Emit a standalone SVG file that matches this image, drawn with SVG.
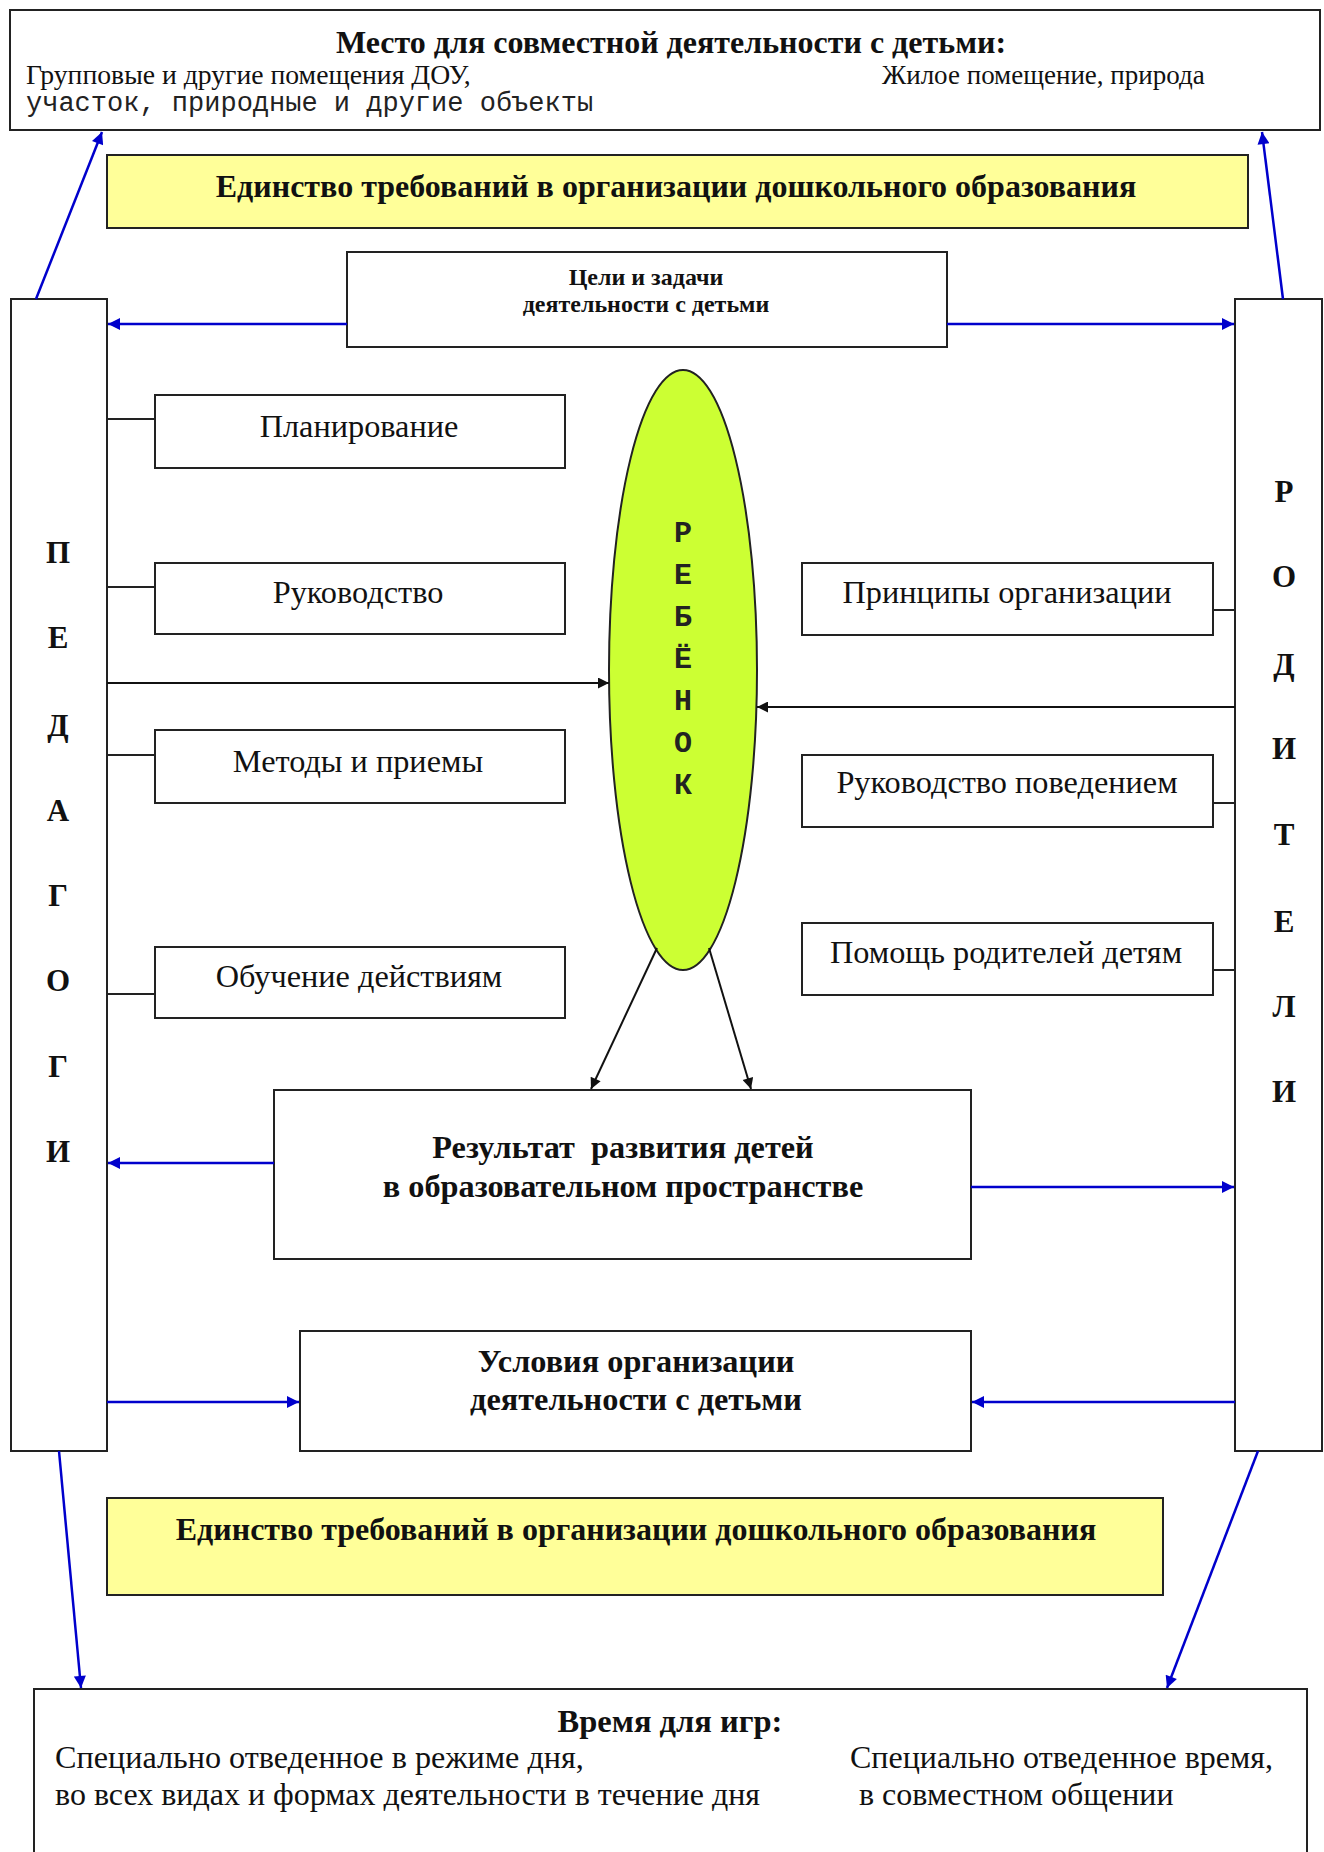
<svg xmlns="http://www.w3.org/2000/svg" width="1324" height="1852" viewBox="0 0 1324 1852">
<style>
.box{fill:#fff;stroke:#222;stroke-width:2}
.yel{fill:#FFFF99;stroke:#222;stroke-width:2}
.serif{font-family:"Liberation Serif","Times New Roman",serif;fill:#111}
.b{font-weight:bold}
.mono{font-family:"Liberation Mono","Courier New",monospace;fill:#222}
.blue{stroke:#0000CC;stroke-width:2.5;fill:none}
.blk{stroke:#111;stroke-width:2;fill:none}
.thin{stroke:#222;stroke-width:2;fill:none}
</style>
<defs>
<marker id="ab" viewBox="0 0 10 10" refX="10" refY="5" markerWidth="15" markerHeight="12" markerUnits="userSpaceOnUse" orient="auto"><path d="M0,0 L10,5 L0,10 z" fill="#0000CC"/></marker>
<marker id="ak" viewBox="0 0 10 10" refX="10" refY="5" markerWidth="14" markerHeight="11" markerUnits="userSpaceOnUse" orient="auto"><path d="M0,0 L10,5 L0,10 z" fill="#111"/></marker>
</defs>
<rect width="1324" height="1852" fill="#fff"/>

<g id="place">
<rect class="box" x="10" y="10" width="1310" height="120"/>
<text class="serif b" x="671" y="53" font-size="32" text-anchor="middle">Место для совместной деятельности с детьми:</text>
<text class="serif" x="26" y="84" font-size="27.7">Групповые и другие помещения ДОУ,</text>
<text class="serif" x="882" y="84" font-size="27">Жилое помещение, природа</text>
<text class="mono" x="26" y="111" font-size="27">участок, природные и другие объекты</text>
</g>

<g id="unity-top">
<rect class="yel" x="107" y="155" width="1141" height="73"/>
<text class="serif b" x="676" y="197" font-size="32" text-anchor="middle">Единство требований в организации дошкольного образования</text>
</g>

<g id="goals">
<rect class="box" x="347" y="252" width="600" height="95"/>
<text class="serif b" x="646" y="285" font-size="24" text-anchor="middle">Цели и задачи</text>
<text class="serif b" x="646" y="312" font-size="24" text-anchor="middle">деятельности с детьми</text>
</g>

<g id="teachers">
<rect class="box" x="11" y="299" width="96" height="1152"/>
<g class="serif b" font-size="31" text-anchor="middle">
<text x="58" y="563">П</text>
<text x="58" y="648">Е</text>
<text x="58" y="736">Д</text>
<text x="58" y="821">А</text>
<text x="58" y="906">Г</text>
<text x="58" y="991">О</text>
<text x="58" y="1077">Г</text>
<text x="58" y="1162">И</text>
</g>
</g>

<g id="parents">
<rect class="box" x="1235" y="299" width="87" height="1152"/>
<g class="serif b" font-size="31" text-anchor="middle">
<text x="1284" y="502">Р</text>
<text x="1284" y="587">О</text>
<text x="1284" y="675">Д</text>
<text x="1284" y="759">И</text>
<text x="1284" y="845">Т</text>
<text x="1284" y="932">Е</text>
<text x="1284" y="1017">Л</text>
<text x="1284" y="1102">И</text>
</g>
</g>

<g id="planning">
<rect class="box" x="155" y="395" width="410" height="73"/>
<text class="serif" x="359" y="437" font-size="32.3" text-anchor="middle">Планирование</text>
</g>
<g id="guidance">
<rect class="box" x="155" y="563" width="410" height="71"/>
<text class="serif" x="358" y="603" font-size="32.3" text-anchor="middle">Руководство</text>
</g>
<g id="methods">
<rect class="box" x="155" y="730" width="410" height="73"/>
<text class="serif" x="358" y="772" font-size="32.3" text-anchor="middle">Методы и приемы</text>
</g>
<g id="training">
<rect class="box" x="155" y="947" width="410" height="71"/>
<text class="serif" x="359" y="987" font-size="32.3" text-anchor="middle">Обучение действиям</text>
</g>

<g id="principles">
<rect class="box" x="802" y="563" width="411" height="72"/>
<text class="serif" x="1007" y="603" font-size="32.3" text-anchor="middle">Принципы организации</text>
</g>
<g id="behavior">
<rect class="box" x="802" y="755" width="411" height="72"/>
<text class="serif" x="1007" y="793" font-size="32.3" text-anchor="middle">Руководство поведением</text>
</g>
<g id="help">
<rect class="box" x="802" y="923" width="411" height="72"/>
<text class="serif" x="1006" y="963" font-size="32.3" text-anchor="middle">Помощь родителей детям</text>
</g>

<g id="child">
<ellipse cx="683" cy="670" rx="74" ry="300" fill="#CCFF33" stroke="#222" stroke-width="2"/>
<g class="mono b" font-size="30" text-anchor="middle" fill="#111">
<text x="683" y="542">Р</text>
<text x="683" y="584">Е</text>
<text x="683" y="626">Б</text>
<text x="683" y="668">Ё</text>
<text x="683" y="710">Н</text>
<text x="683" y="752">О</text>
<text x="683" y="794">К</text>
</g>
</g>

<g id="result">
<rect class="box" x="274" y="1090" width="697" height="169"/>
<text class="serif b" x="623" y="1158" font-size="32.3" text-anchor="middle" xml:space="preserve">Результат  развития детей</text>
<text class="serif b" x="623" y="1197" font-size="32.3" text-anchor="middle">в образовательном пространстве</text>
</g>

<g id="conditions">
<rect class="box" x="300" y="1331" width="671" height="120"/>
<text class="serif b" x="636" y="1372" font-size="32.3" text-anchor="middle">Условия организации</text>
<text class="serif b" x="636" y="1410" font-size="32.3" text-anchor="middle">деятельности с детьми</text>
</g>

<g id="unity-bottom">
<rect class="yel" x="107" y="1498" width="1056" height="97"/>
<text class="serif b" x="636" y="1540" font-size="32" text-anchor="middle">Единство требований в организации дошкольного образования</text>
</g>

<g id="time">
<rect class="box" x="34" y="1689" width="1273" height="170"/>
<text class="serif b" x="670" y="1732" font-size="32.5" text-anchor="middle">Время для игр:</text>
<text class="serif" x="55" y="1768" font-size="32.2">Специально отведенное в режиме дня,</text>
<text class="serif" x="55" y="1805" font-size="32">во всех видах и формах деятельности в течение дня</text>
<text class="serif" x="850" y="1768" font-size="32">Специально отведенное время,</text>
<text class="serif" x="859" y="1805" font-size="32">в совместном общении</text>
</g>

<g id="connectors">
<line class="blue" x1="36" y1="299" x2="102" y2="132" marker-end="url(#ab)"/>
<line class="blue" x1="1283" y1="299" x2="1262" y2="132" marker-end="url(#ab)"/>
<line class="blue" x1="59" y1="1451" x2="81" y2="1688" marker-end="url(#ab)"/>
<line class="blue" x1="1258" y1="1451" x2="1167" y2="1688" marker-end="url(#ab)"/>
<line class="blue" x1="347" y1="324" x2="108" y2="324" marker-end="url(#ab)"/>
<line class="blue" x1="947" y1="324" x2="1234" y2="324" marker-end="url(#ab)"/>
<line class="blue" x1="274" y1="1163" x2="108" y2="1163" marker-end="url(#ab)"/>
<line class="blue" x1="971" y1="1187" x2="1234" y2="1187" marker-end="url(#ab)"/>
<line class="blue" x1="107" y1="1402" x2="299" y2="1402" marker-end="url(#ab)"/>
<line class="blue" x1="1235" y1="1402" x2="972" y2="1402" marker-end="url(#ab)"/>
<line class="blk" x1="107" y1="683" x2="609" y2="683" marker-end="url(#ak)"/>
<line class="blk" x1="1235" y1="707" x2="757" y2="707" marker-end="url(#ak)"/>
<line class="blk" x1="657" y1="948" x2="591" y2="1089" marker-end="url(#ak)"/>
<line class="blk" x1="709" y1="948" x2="751" y2="1089" marker-end="url(#ak)"/>
<line class="thin" x1="107" y1="419" x2="155" y2="419"/>
<line class="thin" x1="107" y1="587" x2="155" y2="587"/>
<line class="thin" x1="107" y1="755" x2="155" y2="755"/>
<line class="thin" x1="107" y1="994" x2="155" y2="994"/>
<line class="thin" x1="1213" y1="610" x2="1235" y2="610"/>
<line class="thin" x1="1213" y1="803" x2="1235" y2="803"/>
<line class="thin" x1="1213" y1="970" x2="1235" y2="970"/>
</g>
</svg>
